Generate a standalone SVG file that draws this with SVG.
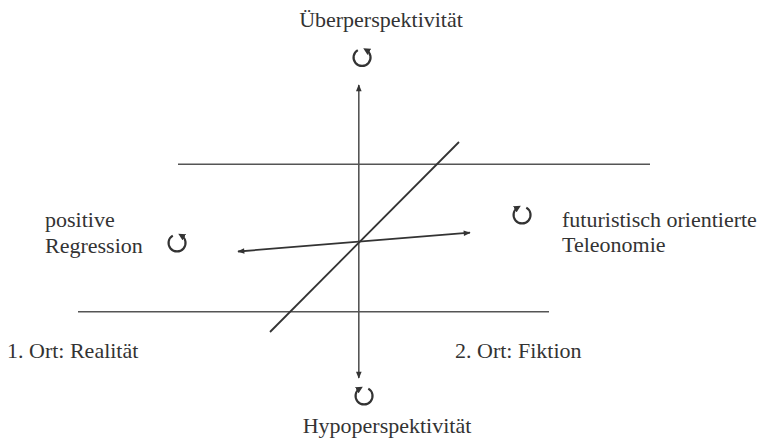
<svg xmlns="http://www.w3.org/2000/svg" width="763" height="442" viewBox="0 0 763 442">
<style>
.t{font-family:"Liberation Serif","Times New Roman",serif;font-size:22px;fill:#333}
.l{stroke:#555;stroke-width:1.6;fill:none}
.d{stroke:#333;stroke-width:1.8;fill:none}
.c{stroke:#333;stroke-width:2.2;fill:none}
</style>
<defs>
<marker id="ah" viewBox="0 0 10 10" refX="9" refY="5" markerWidth="8" markerHeight="7" markerUnits="userSpaceOnUse" orient="auto">
<path d="M0,1 L10,5 L0,9 z" fill="#333"/>
</marker>
<marker id="ch" viewBox="0 0 10 10" refX="5" refY="5" markerWidth="7" markerHeight="7" markerUnits="userSpaceOnUse" orient="auto">
<path d="M0,0 L10,5 L0,10 z" fill="#333"/>
</marker>
</defs>
<g id="connectors">
<line class="l" x1="178" y1="164.3" x2="650" y2="164.3"/>
<line class="l" x1="78" y1="311.7" x2="549" y2="311.7"/>
<line class="l" x1="358.8" y1="241.7" x2="358.8" y2="85" marker-end="url(#ah)"/>
<line class="l" x1="358.8" y1="241.7" x2="358.8" y2="378" marker-end="url(#ah)"/>
<line class="d" x1="270" y1="332" x2="459" y2="142"/>
<line class="d" x1="358.8" y1="241.7" x2="470" y2="232.7" marker-end="url(#ah)"/>
<line class="d" x1="358.8" y1="241.7" x2="238" y2="251.5" marker-end="url(#ah)"/>
</g>
<g id="top">
<text class="t" x="381" y="27" text-anchor="middle">Überperspektivität</text>
<path class="c" d="M357.8,50.1 A8.5,8.5 0 1 0 366.3,50.1" marker-end="url(#ch)"/>
</g>
<g id="left">
<text class="t" x="45" y="227">positive</text>
<text class="t" x="45" y="253">Regression</text>
<path class="c" d="M172.8,235.6 A8.5,8.5 0 1 0 181.3,235.6" marker-end="url(#ch)"/>
</g>
<g id="right">
<path class="c" d="M526.3,207.6 A8.5,8.5 0 1 1 517.8,207.6" marker-end="url(#ch)"/>
<text class="t" x="562" y="227">futuristisch orientierte</text>
<text class="t" x="562" y="252">Teleonomie</text>
</g>
<g id="bottom">
<path class="c" d="M368.3,388.6 A8.5,8.5 0 1 1 359.8,388.6" marker-end="url(#ch)"/>
<text class="t" x="387" y="433" text-anchor="middle">Hypoperspektivität</text>
</g>
<g id="ort1"><text class="t" x="7" y="358">1. Ort: Realität</text></g>
<g id="ort2"><text class="t" x="455" y="358">2. Ort: Fiktion</text></g>
</svg>
